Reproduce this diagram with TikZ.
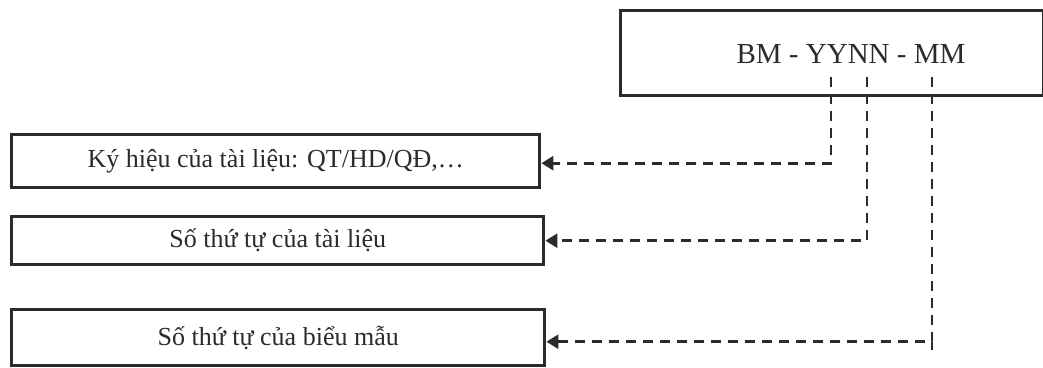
\documentclass[tikz,border=0pt]{standalone}
\usepackage{fontspec}
\setmainfont{Liberation Serif}
\usetikzlibrary{arrows.meta}
\definecolor{ink}{HTML}{2B2B2B}
\begin{document}
\begin{tikzpicture}[x=1pt,y=-1pt,
  codebox/.style={draw=ink,line width=3.4pt,rectangle,inner sep=0pt},
  itembox/.style={draw=ink,line width=3.4pt,rectangle,inner sep=0pt,font=\fontsize{26}{31}\selectfont,text=ink},
  dashline/.style={draw=ink,line width=2.7pt,dash pattern=on 10pt off 7pt,-{Triangle[length=12pt,width=14pt]}},
  tailline/.style={draw=ink,line width=2.7pt}]
\useasboundingbox (0,0) rectangle (1043,367);
% top code box
\node[codebox,minimum width=423pt,minimum height=85pt,anchor=north west] (top) at (618.5,8.5) {};
\node[font=\fontsize{29}{34}\selectfont,text=ink] (code) at (851,54) {BM - YYNN - MM};
\coordinate (t1) at (831,77);
\coordinate (t2) at (867,77);
\coordinate (t3) at (932,77);
% item boxes
\node[itembox,minimum width=528pt,minimum height=53pt,anchor=north west] (b1) at (10,133) {Ký hiệu của tài liệu: QT/HD/QĐ,…};
\node[itembox,minimum width=532pt,minimum height=48pt,anchor=north west] (b2) at (10,215) {Số thứ tự của tài liệu};
\node[itembox,minimum width=533pt,minimum height=56pt,anchor=north west] (b3) at (10,308) {Số thứ tự của biểu mẫu};
% connectors
\draw[dashline] (t1) |- ([yshift=-2pt]b1.east);
\draw[dashline] (t2) |- (b2.east);
\draw[dashline] (t3) |- ([yshift=-4pt]b3.east);
\coordinate (tail) at ([yshift=-12pt]t3 |- b3.east);
\draw[tailline] ([yshift=-4pt]t3 |- b3.east) -- (tail);
\end{tikzpicture}
\end{document}
